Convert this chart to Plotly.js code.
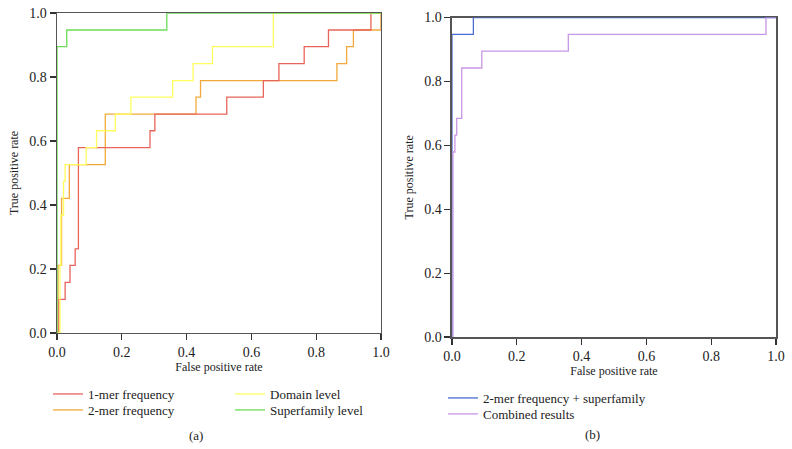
<!DOCTYPE html>
<html>
<head>
<meta charset="utf-8">
<script src="https://cdn.plot.ly/plotly-3.0.1.min.js"></script>
<style>html,body{margin:0;padding:0;background:#fff;}#chart{width:792px;height:449px;}</style>
</head>
<body>
<div id="chart"></div>
<script>
// ROC step points (x = false positive rate where curve rises, y = new true positive rate)
const fpr1mer = [0, 0.006, 0.025, 0.040, 0.056, 0.066, 0.287, 0.302, 0.524, 0.637, 0.685, 0.763, 0.838, 0.969, 1.0];
const tpr1mer = [0, 0.105, 0.158, 0.211, 0.263, 0.579, 0.632, 0.684, 0.737, 0.789, 0.842, 0.895, 0.947, 1.0, 1.0];

const fpr2mer = [0, 0.003, 0.014, 0.038, 0.149, 0.429, 0.443, 0.864, 0.894, 0.915, 1.0];
const tpr2mer = [0, 0.211, 0.421, 0.526, 0.684, 0.737, 0.789, 0.842, 0.895, 0.947, 1.0];

const fprDomain = [0, 0.009, 0.012, 0.020, 0.025, 0.090, 0.122, 0.180, 0.228, 0.357, 0.420, 0.480, 0.668, 1.0];
const tprDomain = [0, 0.211, 0.368, 0.474, 0.526, 0.579, 0.632, 0.684, 0.737, 0.789, 0.842, 0.895, 1.0, 1.0];

const fprSuper = [0, 0, 0.030, 0.339, 1.0];
const tprSuper = [0, 0.895, 0.947, 1.0, 1.0];

const fprCombo2 = [0, 0, 0.066, 1.0];
const tprCombo2 = [0, 0.947, 1.0, 1.0];

const fprCombined = [0, 0.003, 0.009, 0.0145, 0.030, 0.092, 0.359, 0.969, 1.0];
const tprCombined = [0, 0.579, 0.632, 0.684, 0.842, 0.895, 0.947, 1.0, 1.0];

const tickVals = [0, 0.2, 0.4, 0.6, 0.8, 1.0];
const tickText = ['0.0', '0.2', '0.4', '0.6', '0.8', '1.0'];

const FONT = 'Liberation Serif, Times New Roman, serif';

function tr(x, y, name, color, xa, ya, legend) {
  return {x: x, y: y, name: name, type: 'scatter', mode: 'lines',
    line: {shape: 'hv', color: color, width: 1.3},
    xaxis: xa, yaxis: ya, legend: legend, cliponaxis: false, hoverinfo: 'skip'};
}

const data = [
  tr(fpr2mer, tpr2mer, '2-mer frequency', '#f2a93b', 'x', 'y', 'legend2'),
  tr(fpr1mer, tpr1mer, '1-mer frequency', '#e8645a', 'x', 'y', 'legend'),
  tr(fprDomain, tprDomain, 'Domain level', '#ffff5e', 'x', 'y', 'legend3'),
  tr(fprSuper, tprSuper, 'Superfamily level', '#6ddc5a', 'x', 'y', 'legend4'),
  tr(fprCombo2, tprCombo2, '2-mer frequency + superfamily', '#4a6cd0', 'x2', 'y2', 'legend5'),
  tr(fprCombined, tprCombined, 'Combined results', '#c896e6', 'x2', 'y2', 'legend6')
];

function xax(domain, anchor) {
  return {domain: domain, anchor: anchor, range: [0, 1], tickvals: tickVals, ticktext: tickText,
    ticks: 'outside', ticklen: 6, tickwidth: 1.2, tickcolor: '#333',
    showline: true, linecolor: '#555', linewidth: 1.5, mirror: true,
    showgrid: false, zeroline: false, layer: 'below traces',
    tickfont: {family: FONT, size: 14, color: '#222'},
    title: {text: 'False positive rate', font: {family: FONT, size: 12, color: '#222'}, standoff: 3}};
}
function yax(domain, anchor) {
  return {domain: domain, anchor: anchor, range: [0, 1], tickvals: tickVals, ticktext: tickText,
    ticks: 'outside', ticklen: 6, tickwidth: 1.2, tickcolor: '#333',
    showline: true, linecolor: '#555', linewidth: 1.5, mirror: true,
    showgrid: false, zeroline: false, layer: 'below traces',
    tickfont: {family: FONT, size: 14, color: '#222'},
    title: {text: 'True positive rate', font: {family: FONT, size: 12, color: '#222'}, standoff: 8}};
}

const legFont = {family: FONT, size: 13, color: '#222'};
function leg(x, y) {
  return {x: x, y: y, xanchor: 'left', yanchor: 'top', font: legFont, bgcolor: 'rgba(0,0,0,0)', borderwidth: 0};
}
const layout = {
  width: 792, height: 449,
  margin: {l: 0, r: 0, t: 0, b: 0},
  paper_bgcolor: '#fff', plot_bgcolor: '#fff',
  showlegend: true,
  xaxis: xax([0.072, 0.481], 'y'),
  yaxis: yax([0.2584, 0.971], 'x'),
  xaxis2: xax([0.5707, 0.9798], 'y2'),
  yaxis2: yax([0.2494, 0.961], 'x2'),
  legend: leg(0.0606, 0.1559),
  legend2: leg(0.0606, 0.1203),
  legend3: leg(0.2904, 0.1559),
  legend4: leg(0.2904, 0.1203),
  legend5: leg(0.5593, 0.1470),
  legend6: leg(0.5593, 0.1114),
  annotations: [
    {text: '(a)', x: 0.2475, y: 0.029, xref: 'paper', yref: 'paper', xanchor: 'center', yanchor: 'middle', showarrow: false, font: {family: FONT, size: 13, color: '#222'}},
    {text: '(b)', x: 0.7475, y: 0.0312, xref: 'paper', yref: 'paper', xanchor: 'center', yanchor: 'middle', showarrow: false, font: {family: FONT, size: 13, color: '#222'}}
  ]
};

Plotly.newPlot('chart', data, layout, {displayModeBar: false, staticPlot: true});
</script>
</body>
</html>
